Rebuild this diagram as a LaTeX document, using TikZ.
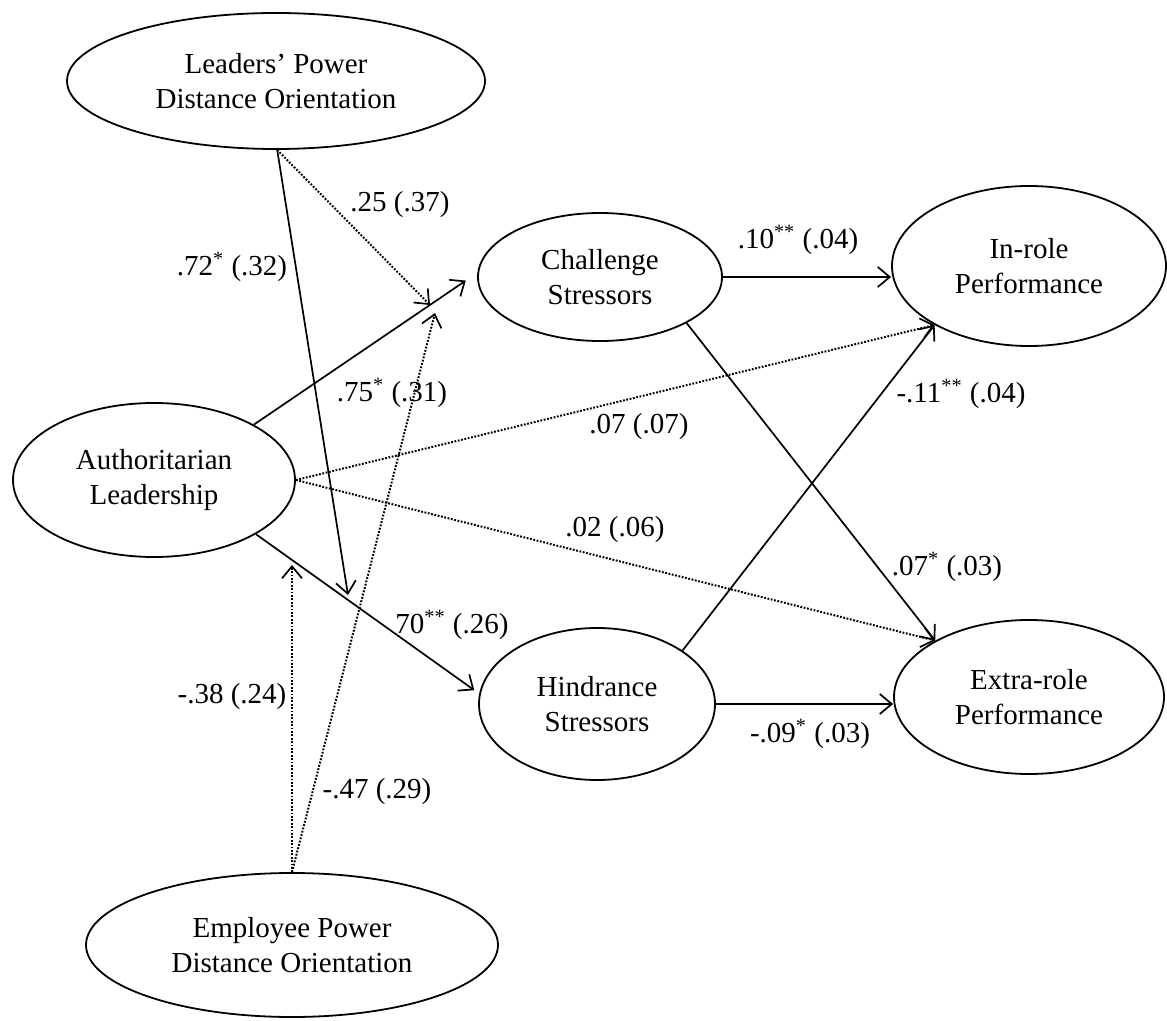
\documentclass[tikz,border=0pt]{standalone}
\usepackage{fontspec}
\setmainfont{Liberation Serif}
\usetikzlibrary{shapes.geometric,arrows.meta,calc}
\begin{document}
\begin{tikzpicture}[x=0.5pt,y=-0.5pt,
  lat/.style={draw,ellipse,inner sep=0pt,line width=0.9pt,align=center,
    font=\fontsize{14.5pt}{17.5pt}\selectfont},
  coef/.style={inner sep=0pt,font=\fontsize{14.5pt}{17.5pt}\selectfont},
  solidarr/.style={line width=0.85pt,-{Straight Barb[length=6pt,width=10pt,line width=0.85pt]}},
  dotarr/.style={line width=1pt,dash pattern=on 0.9pt off 0.8pt,
    -{Straight Barb[length=6pt,width=10pt,line width=0.85pt]}}
]
\useasboundingbox (0,0) rectangle (1167,1021);

% latent variables
\node[lat,minimum width=209pt,minimum height=68pt] (L) at (276,81) {Leaders’ Power\\Distance Orientation};
\node[lat,minimum width=141pt,minimum height=77pt] (AL) at (154,480) {Authoritarian\\Leadership};
\node[lat,minimum width=206pt,minimum height=72pt] (E) at (292,945) {Employee Power\\Distance Orientation};
\node[lat,minimum width=122pt,minimum height=64pt] (C) at (600,277) {Challenge\\Stressors};
\node[lat,minimum width=118pt,minimum height=76pt] (H) at (597,704) {Hindrance\\Stressors};
\node[lat,minimum width=137pt,minimum height=80pt] (IR) at (1029,266) {In-role\\Performance};
\node[lat,minimum width=135pt,minimum height=77pt] (ER) at (1029,697) {Extra-role\\Performance};

% free ends on other paths (moderation arrows)
\coordinate (tL1) at (348,595);
\coordinate (tL2) at (430,305);
\coordinate (tE1) at (292,565);
\coordinate (tE2) at (435,313);

% main paths
\draw[solidarr,shorten >=7pt] (AL.29) -- (C.178);
\draw[solidarr,shorten >=3pt] (AL.-28) -- (H.175);
\draw[dotarr] (AL.east) -- (IR.-148);
\draw[dotarr] (AL.east) -- (ER.149);
\draw[solidarr] (C.east) -- (C.east -| IR.west);
\draw[solidarr] (H.east) -- (H.east -| ER.west);
\draw[solidarr] (C.-28) -- (ER.149);
\draw[solidarr] (H.32) -- (IR.-148);

% moderation paths
\draw[solidarr] (L.-89) -- (tL1);
\draw[dotarr] (L.-89) -- (tL2);
\draw[dotarr] (E.north) -- (tE1);
\draw[dotarr] (E.north) -- (tE2);

% coefficients
\node[coef] (k1) at (232,267) {.72\textsuperscript{*} (.32)};
\node[coef] (k2) at (400,205) {.25 (.37)};
\node[coef] (k3) at (392,393) {.75\textsuperscript{*} (.31)};
\node[coef] (k4) at (639,427) {.07 (.07)};
\node[coef] (k5) at (615,530) {.02 (.06)};
\node[coef] (k6) at (452,625) {70\textsuperscript{**} (.26)};
\node[coef] (k7) at (232,697) {-.38 (.24)};
\node[coef] (k8) at (377,792) {-.47 (.29)};
\node[coef] (k9) at (798,240) {.10\textsuperscript{**} (.04)};
\node[coef] (k10) at (961,394) {-.11\textsuperscript{**} (.04)};
\node[coef] (k11) at (947,567) {.07\textsuperscript{*} (.03)};
\node[coef] (k12) at (810,734) {-.09\textsuperscript{*} (.03)};
\end{tikzpicture}
\end{document}
